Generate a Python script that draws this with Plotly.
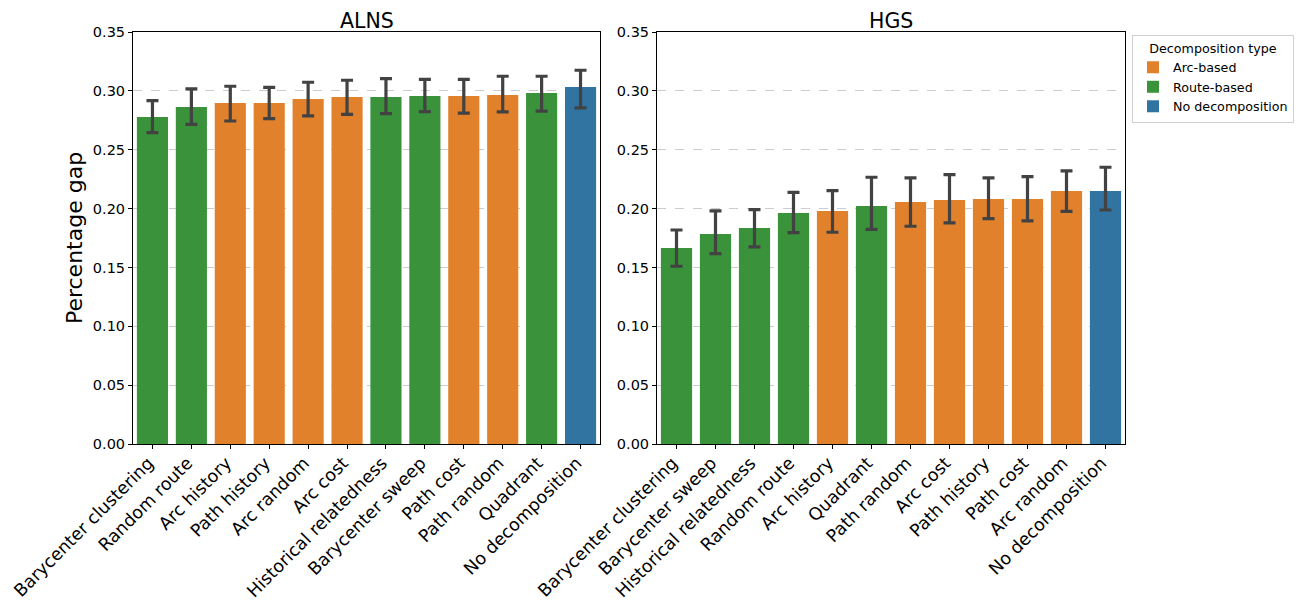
import plotly.graph_objects as go

# ---- data ----
alns_methods = ["Barycenter clustering", "Random route", "Arc history", "Path history",
                "Arc random", "Arc cost", "Historical relatedness", "Barycenter sweep",
                "Path cost", "Path random", "Quadrant", "No decomposition"]
alns_mean = [0.2778, 0.2863, 0.2897, 0.2897, 0.2931, 0.2948, 0.2948, 0.2956,
             0.2956, 0.2965, 0.2982, 0.3033]
alns_hi = [0.2917, 0.3016, 0.3039, 0.3030, 0.3073, 0.3090, 0.3104, 0.3098,
           0.3098, 0.3124, 0.3124, 0.3175]
alns_lo = [0.2645, 0.2716, 0.2744, 0.2764, 0.2787, 0.2801, 0.2807, 0.2823,
           0.2810, 0.2821, 0.2827, 0.2855]

hgs_methods = ["Barycenter clustering", "Barycenter sweep", "Historical relatedness",
               "Random route", "Arc history", "Quadrant", "Path random", "Arc cost",
               "Path history", "Path cost", "Arc random", "No decomposition"]
hgs_mean = [0.1665, 0.1784, 0.1835, 0.1963, 0.1980, 0.2022, 0.2056, 0.2073,
            0.2082, 0.2082, 0.2150, 0.2150]
hgs_hi = [0.1818, 0.1980, 0.1991, 0.2138, 0.2152, 0.2266, 0.2260, 0.2288,
          0.2260, 0.2271, 0.2320, 0.2351]
hgs_lo = [0.1510, 0.1617, 0.1674, 0.1795, 0.1799, 0.1824, 0.1850, 0.1878,
          0.1914, 0.1895, 0.1977, 0.1988]

method_type = {
    "Barycenter clustering": "Route-based", "Random route": "Route-based",
    "Historical relatedness": "Route-based", "Barycenter sweep": "Route-based",
    "Quadrant": "Route-based",
    "Arc history": "Arc-based", "Path history": "Arc-based", "Arc random": "Arc-based",
    "Arc cost": "Arc-based", "Path cost": "Arc-based", "Path random": "Arc-based",
    "No decomposition": "No decomposition",
}
types = ["Arc-based", "Route-based", "No decomposition"]
type_colors = {"Arc-based": "#e1812c", "Route-based": "#3a923a", "No decomposition": "#3274a1"}

y_ticks = [0.0, 0.05, 0.10, 0.15, 0.20, 0.25, 0.30, 0.35]

FONT = "DejaVu Sans"
W, H = 1303, 602
OFF = 8  # page body margin offset in the browser

fig = go.Figure()

panels = [
    (alns_methods, alns_mean, alns_hi, alns_lo, "x", "y", True),
    (hgs_methods, hgs_mean, hgs_hi, hgs_lo, "x2", "y2", False),
]
for methods, mean, hi, lo, xa, ya, show in panels:
    for t in types:
        idx = [i for i, m in enumerate(methods) if method_type[m] == t]
        fig.add_trace(go.Bar(
            x=[methods[i] for i in idx],
            y=[mean[i] for i in idx],
            error_y=dict(type="data", symmetric=False,
                         array=[hi[i] - mean[i] for i in idx],
                         arrayminus=[mean[i] - lo[i] for i in idx],
                         color="#424242", thickness=3.2, width=6),
            marker=dict(color=type_colors[t], line=dict(width=0)),
            width=0.8, name=t, legendgroup=t, showlegend=show,
            xaxis=xa, yaxis=ya,
        ))

axis_common = dict(showline=True, linecolor="black", linewidth=1, mirror=True,
                   ticks="outside", ticklen=4, tickcolor="black", automargin=False)
xtick_common = dict(tickangle=-45, range=[-0.5, 11.5], tickfont=dict(size=17.5),
                    ticklabelshift=-4, ticklabelstandoff=-3, showgrid=False)
XD1 = [(133 - OFF) / W, (600 - OFF) / W]
XD2 = [(657 - OFF) / W, (1125 - OFF) / W]
YD = [1 - (444 - OFF) / H, 1 - (32 - OFF) / H]
fig.update_layout(
    width=W, height=H,
    margin=dict(l=0, r=0, t=0, b=0),
    paper_bgcolor="white", plot_bgcolor="white",
    barmode="overlay",
    font=dict(family=FONT, color="black"),
    xaxis=dict(domain=XD1, type="category", categoryorder="array",
               categoryarray=alns_methods, anchor="y", **xtick_common, **axis_common),
    yaxis=dict(domain=YD, range=[0, 0.35], tickvals=y_ticks,
               tickformat=".2f", tickfont=dict(size=14.5), showgrid=True,
               gridcolor="#cccccc", griddash="dash", gridwidth=1, anchor="x",
               zeroline=False,
               title=dict(text="Percentage gap", font=dict(size=22), standoff=4),
               **axis_common),
    xaxis2=dict(domain=XD2, type="category", categoryorder="array",
                categoryarray=hgs_methods, anchor="y2", **xtick_common, **axis_common),
    yaxis2=dict(domain=YD, range=[0, 0.35], tickvals=y_ticks,
                tickformat=".2f", tickfont=dict(size=14.5), showgrid=True,
                gridcolor="#cccccc", griddash="dash", gridwidth=1, anchor="x2",
                zeroline=False, **axis_common),
    legend=dict(title=dict(text="Decomposition type", side="top center", font=dict(size=12.7)),
                font=dict(size=12.7), x=(1132 - OFF) / W, y=1 - (35 - OFF) / H,
                xanchor="left", yanchor="top",
                bordercolor="#d0d0d0", borderwidth=1, bgcolor="white",
                traceorder="normal", itemwidth=30, tracegroupgap=0),
    annotations=[
        dict(text="ALNS", x=(XD1[0] + XD1[1]) / 2, y=YD[1], xref="paper", yref="paper",
             xanchor="center", yanchor="middle", showarrow=False, font=dict(size=20.5),
             yshift=11, borderpad=0),
        dict(text="HGS", x=(XD2[0] + XD2[1]) / 2, y=YD[1], xref="paper", yref="paper",
             xanchor="center", yanchor="middle", showarrow=False, font=dict(size=20.5),
             yshift=11, borderpad=0),
    ],
)

fig.write_html("out.html")
